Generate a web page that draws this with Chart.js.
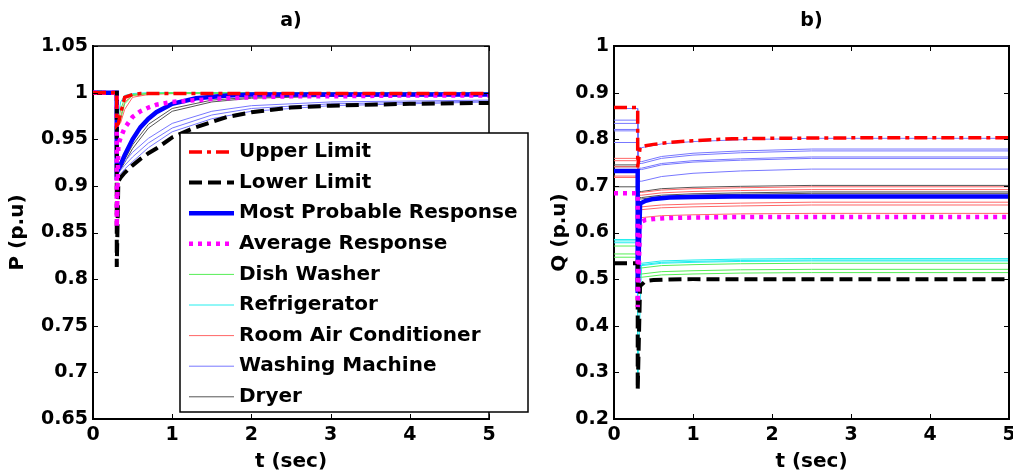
<!DOCTYPE html>
<html>
<head>
<meta charset="utf-8">
<title>Load response P / Q</title>
<script src="https://cdn.jsdelivr.net/npm/chart.js@4"></script>
<style>
  body { margin: 0; background: #fff; width: 1013px; height: 474px; overflow: hidden; position: relative; }
  #chartP { position: absolute; left: 0; top: 0; }
  #chartQ { position: absolute; left: 540px; top: 0; }
</style>
</head>
<body>
<canvas id="chartP" width="545" height="474"></canvas>
<canvas id="chartQ" width="473" height="474"></canvas>
<script>
// time samples (sec) - envelope curves and appliance curves
const tP = [0, 0.3, 0.3, 0.32, 0.35, 0.4, 0.5, 0.6, 0.7, 0.8, 1.0, 1.3, 1.7, 2.0, 2.5, 3.0, 4.0, 5.0];
const tPThin = [0, 0.3, 0.3, 0.35, 0.4, 0.5, 0.7, 1.0, 1.5, 2.0, 3.0, 5.0];
const tQ = [0, 0.3, 0.3, 0.33, 0.4, 0.5, 0.7, 1.0, 1.5, 2.0, 3.0, 5.0];
const tQThin = [0, 0.3, 0.3, 0.35, 0.6, 1.0, 1.6, 2.5, 5.0];

// a) active power P (p.u)
const pUpper = [1, 1, 0.965, 0.967, 0.978, 0.995, 0.998, 0.999, 0.999, 0.999, 0.999, 0.999, 0.999, 0.999, 0.999, 0.999, 0.999, 0.999];
const pLower = [1, 1, 0.813, 0.905, 0.909, 0.914, 0.922, 0.929, 0.935, 0.940, 0.952, 0.963, 0.974, 0.979, 0.984, 0.986, 0.988, 0.989];
const pMostProbable = [1, 1, 0.915, 0.918, 0.923, 0.933, 0.950, 0.963, 0.972, 0.979, 0.988, 0.994, 0.997, 0.998, 0.998, 0.998, 0.998, 0.998];
const pAverage = [1, 1, 0.856, 0.944, 0.952, 0.962, 0.974, 0.980, 0.984, 0.987, 0.990, 0.992, 0.994, 0.995, 0.996, 0.996, 0.997, 0.997];

const pDishWasher = [
  [1, 1, 0.958, 0.972, 0.988, 0.997, 0.999, 0.999, 0.999, 0.999, 0.999, 0.999],
  [1, 1, 0.962, 0.982, 0.994, 0.998, 0.999, 1, 1, 1, 1, 1]
];
const pRefrigerator = [
  [1, 1, 0.968, 0.990, 0.997, 0.999, 1, 1, 1, 1, 1, 1]
];
const pRoomAC = [
  [1, 1, 0.963, 0.968, 0.982, 0.995, 0.998, 0.999, 0.999, 0.999, 0.999, 0.999],
  [1, 1, 0.966, 0.975, 0.990, 0.997, 0.999, 0.999, 0.999, 0.999, 0.999, 0.999]
];
const pWashingMachine = [
  [1, 1, 0.914, 0.921, 0.926, 0.936, 0.951, 0.967, 0.980, 0.986, 0.990, 0.992],
  [1, 1, 0.911, 0.917, 0.922, 0.931, 0.946, 0.962, 0.976, 0.983, 0.988, 0.991],
  [1, 1, 0.909, 0.913, 0.918, 0.926, 0.941, 0.958, 0.972, 0.980, 0.986, 0.990]
];
const pDryer = [
  [1, 1, 0.916, 0.920, 0.928, 0.944, 0.966, 0.983, 0.992, 0.995, 0.997, 0.998],
  [1, 1, 0.915, 0.918, 0.925, 0.940, 0.962, 0.980, 0.990, 0.994, 0.996, 0.997]
];

// b) reactive power Q (p.u)
const qUpper = [0.868, 0.868, 0.74, 0.782, 0.786, 0.789, 0.793, 0.797, 0.801, 0.802, 0.803, 0.803];
const qLower = [0.534, 0.534, 0.262, 0.485, 0.496, 0.498, 0.499, 0.5, 0.5, 0.5, 0.5, 0.5];
const qMostProbable = [0.732, 0.732, 0.47, 0.662, 0.668, 0.672, 0.675, 0.676, 0.677, 0.677, 0.677, 0.677];
const qAverage = [0.684, 0.684, 0.44, 0.622, 0.627, 0.629, 0.631, 0.632, 0.633, 0.633, 0.633, 0.633];

const qDishWasher = [
  [0.571, 0.571, 0.524, 0.524, 0.529, 0.531, 0.533, 0.534, 0.534],
  [0.554, 0.554, 0.511, 0.511, 0.516, 0.518, 0.520, 0.521, 0.521],
  [0.547, 0.547, 0.504, 0.504, 0.509, 0.511, 0.513, 0.514, 0.514]
];
const qRefrigerator = [
  [0.585, 0.585, 0.534, 0.534, 0.539, 0.541, 0.543, 0.544, 0.544],
  [0.582, 0.582, 0.280, 0.531, 0.536, 0.538, 0.540, 0.541, 0.541],
  [0.578, 0.578, 0.529, 0.529, 0.534, 0.536, 0.538, 0.539, 0.539]
];
const qRoomAC = [
  [0.759, 0.759, 0.686, 0.686, 0.691, 0.694, 0.696, 0.698, 0.698],
  [0.754, 0.754, 0.680, 0.680, 0.685, 0.688, 0.690, 0.692, 0.692],
  [0.741, 0.741, 0.655, 0.655, 0.659, 0.661, 0.663, 0.665, 0.665],
  [0.721, 0.721, 0.649, 0.649, 0.653, 0.655, 0.657, 0.659, 0.659],
  [0.718, 0.718, 0.632, 0.632, 0.636, 0.638, 0.640, 0.641, 0.641]
];
const qWashingMachine = [
  [0.866, 0.866, 0.782, 0.782, 0.790, 0.795, 0.799, 0.802, 0.802],
  [0.841, 0.841, 0.752, 0.752, 0.763, 0.770, 0.775, 0.779, 0.779],
  [0.834, 0.834, 0.748, 0.748, 0.759, 0.766, 0.771, 0.775, 0.775],
  [0.821, 0.821, 0.738, 0.738, 0.748, 0.754, 0.758, 0.762, 0.762],
  [0.818, 0.818, 0.735, 0.735, 0.745, 0.751, 0.755, 0.759, 0.759],
  [0.793, 0.793, 0.710, 0.710, 0.720, 0.727, 0.732, 0.736, 0.736]
];
const qDryer = [
  [0.745, 0.745, 0.688, 0.688, 0.694, 0.697, 0.699, 0.701, 0.701],
  [0.741, 0.741, 0.675, 0.675, 0.680, 0.683, 0.685, 0.687, 0.687],
  [0.698, 0.698, 0.672, 0.672, 0.677, 0.680, 0.682, 0.684, 0.684]
];

const xTicks = [0, 1, 2, 3, 4, 5];

// line styles
const style = {
  upper:   { borderColor: '#ff0000', borderWidth: 3.5, borderDash: [13, 5, 4, 5] },
  lower:   { borderColor: '#000000', borderWidth: 4, borderDash: [13, 6] },
  most:    { borderColor: '#0000ff', borderWidth: 4.5 },
  average: { borderColor: '#ff00ff', borderWidth: 4.5, borderDash: [4, 5] },
  dish:    { borderColor: '#55ee55', borderWidth: 1 },
  fridge:  { borderColor: '#22eeee', borderWidth: 1 },
  ac:      { borderColor: '#ff6666', borderWidth: 1 },
  washer:  { borderColor: '#7777ff', borderWidth: 1 },
  dryer:   { borderColor: '#555555', borderWidth: 1 }
};

Chart.defaults.font.family = '"DejaVu Sans", sans-serif';
Chart.defaults.color = '#000';

function line(label, times, values, st, order) {
  return Object.assign({
    label: label,
    order: order,
    data: values.map((v, i) => ({ x: times[i], y: v })),
    pointRadius: 0,
    tension: 0,
    fill: false,
    borderCapStyle: 'butt'
  }, st);
}

function buildSets(thickT, thinT, env, groups) {
  const sets = [
    line('Upper Limit', thickT, env.upper, style.upper, 1),
    line('Lower Limit', thickT, env.lower, style.lower, 3),
    line('Most Probable Response', thickT, env.most, style.most, 4),
    line('Average Response', thickT, env.average, style.average, 2)
  ];
  groups.forEach(g => {
    g.rows.forEach(v => sets.push(line(g.label, thinT, v, g.st, 10)));
  });
  return sets;
}

// top/right box edges and inward tick marks, like the original figure
const framePlugin = {
  id: 'frame',
  afterDatasetsDraw(chart, args, opts) {
    const { ctx, chartArea: a, scales } = chart;
    ctx.save();
    ctx.strokeStyle = '#000';
    ctx.lineWidth = opts.width || 1.5;
    ctx.beginPath();
    ctx.moveTo(a.left, a.top);
    ctx.lineTo(a.right, a.top);
    ctx.lineTo(a.right, a.bottom);
    ctx.stroke();
    ctx.lineWidth = 1;
    ctx.beginPath();
    scales.x.ticks.forEach(t => {
      const px = Math.round(scales.x.getPixelForValue(t.value)) + 0.5;
      ctx.moveTo(px, a.bottom); ctx.lineTo(px, a.bottom - 5);
      ctx.moveTo(px, a.top); ctx.lineTo(px, a.top + 5);
    });
    scales.y.ticks.forEach(t => {
      const py = Math.round(scales.y.getPixelForValue(t.value)) + 0.5;
      ctx.moveTo(a.left, py); ctx.lineTo(a.left + 5, py);
      ctx.moveTo(a.right, py); ctx.lineTo(a.right - 5, py);
    });
    ctx.stroke();
    ctx.restore();
  }
};

// boxed legend drawn over plot a)
const boxLegendPlugin = {
  id: 'boxLegend',
  afterDraw(chart, args, o) {
    const { ctx } = chart;
    const entries = [];
    chart.data.datasets.forEach(ds => {
      if (!entries.some(e => e.label === ds.label)) entries.push(ds);
    });
    ctx.save();
    ctx.fillStyle = '#fff';
    ctx.fillRect(o.left, o.top, o.width, o.height);
    ctx.strokeStyle = '#000';
    ctx.lineWidth = 1.5;
    ctx.strokeRect(o.left, o.top, o.width, o.height);
    ctx.font = 'bold 20px "DejaVu Sans"';
    ctx.textBaseline = 'middle';
    entries.forEach((ds, i) => {
      const y = o.firstRow + i * o.rowGap;
      ctx.setLineDash(ds.borderDash || []);
      ctx.strokeStyle = ds.borderColor;
      ctx.lineWidth = ds.borderWidth;
      ctx.beginPath();
      ctx.moveTo(o.lineFrom, y);
      ctx.lineTo(o.lineTo, y);
      ctx.stroke();
      ctx.setLineDash([]);
      ctx.fillStyle = '#000';
      ctx.fillText(ds.label, o.textX, y);
    });
    ctx.restore();
  }
};

function axisOptions(yMin, yMax, yStep, yTitle, yWidth, yTitlePad) {
  return {
    x: {
      type: 'linear', min: 0, max: 5,
      afterBuildTicks: s => { s.ticks = xTicks.map(v => ({ value: v })); },
      afterFit: s => { s.height = 55; s.paddingLeft = 0; s.paddingRight = 0; },
      grid: { drawOnChartArea: false, drawTicks: false },
      border: { color: '#000', width: 2 },
      ticks: { font: { size: 19, weight: 'bold' }, padding: 5, maxRotation: 0, autoSkip: false },
      title: { display: true, text: 't (sec)', font: { size: 20, weight: 'bold', lineHeight: 1.2 }, padding: { top: 0, bottom: 0 } }
    },
    y: {
      min: yMin, max: yMax,
      afterFit: s => { s.width = yWidth; },
      grid: { drawOnChartArea: false, drawTicks: false },
      border: { color: '#000', width: 2 },
      ticks: {
        stepSize: yStep, autoSkip: false, padding: 5,
        font: { size: 19, weight: 'bold' },
        callback: v => String(+v.toFixed(2))
      },
      title: { display: true, text: yTitle, font: { size: 20, weight: 'bold', lineHeight: 1.2 }, padding: { top: yTitlePad, bottom: 0 } }
    }
  };
}

function titleOptions(text) {
  return {
    display: true, text: text, fullSize: false,
    font: { size: 19, weight: 'bold', lineHeight: 1.2 },
    padding: { top: 9.6, bottom: 13.6 }
  };
}

new Chart(document.getElementById('chartP'), {
  type: 'line',
  data: {
    datasets: buildSets(tP, tPThin,
      { upper: pUpper, lower: pLower, most: pMostProbable, average: pAverage },
      [
        { label: 'Dish Washer', rows: pDishWasher, st: style.dish },
        { label: 'Refrigerator', rows: pRefrigerator, st: style.fridge },
        { label: 'Room Air Conditioner', rows: pRoomAC, st: style.ac },
        { label: 'Washing Machine', rows: pWashingMachine, st: style.washer },
        { label: 'Dryer', rows: pDryer, st: style.dryer }
      ])
  },
  options: {
    responsive: false,
    animation: false,
    layout: { padding: { left: 0, top: 0, right: 56, bottom: 0 } },
    scales: axisOptions(0.65, 1.05, 0.05, 'P (p.u)', 93, 6),
    plugins: {
      legend: { display: false },
      tooltip: { enabled: false },
      title: titleOptions('a)'),
      frame: { width: 1.5 },
      boxLegend: { left: 180, top: 133, width: 348, height: 279, firstRow: 152, rowGap: 30.6, lineFrom: 189, lineTo: 234, textX: 239 }
    }
  },
  plugins: [framePlugin, boxLegendPlugin]
});

new Chart(document.getElementById('chartQ'), {
  type: 'line',
  data: {
    datasets: buildSets(tQ, tQThin,
      { upper: qUpper, lower: qLower, most: qMostProbable, average: qAverage },
      [
        { label: 'Dish Washer', rows: qDishWasher, st: style.dish },
        { label: 'Refrigerator', rows: qRefrigerator, st: style.fridge },
        { label: 'Room Air Conditioner', rows: qRoomAC, st: style.ac },
        { label: 'Washing Machine', rows: qWashingMachine, st: style.washer },
        { label: 'Dryer', rows: qDryer, st: style.dryer }
      ])
  },
  options: {
    responsive: false,
    animation: false,
    layout: { padding: { left: 0, top: 0, right: 4, bottom: 0 } },
    scales: axisOptions(0.2, 1, 0.1, 'Q (p.u)', 74, 8),
    plugins: {
      legend: { display: false },
      tooltip: { enabled: false },
      title: titleOptions('b)'),
      frame: { width: 2 }
    }
  },
  plugins: [framePlugin]
});
</script>
</body>
</html>
